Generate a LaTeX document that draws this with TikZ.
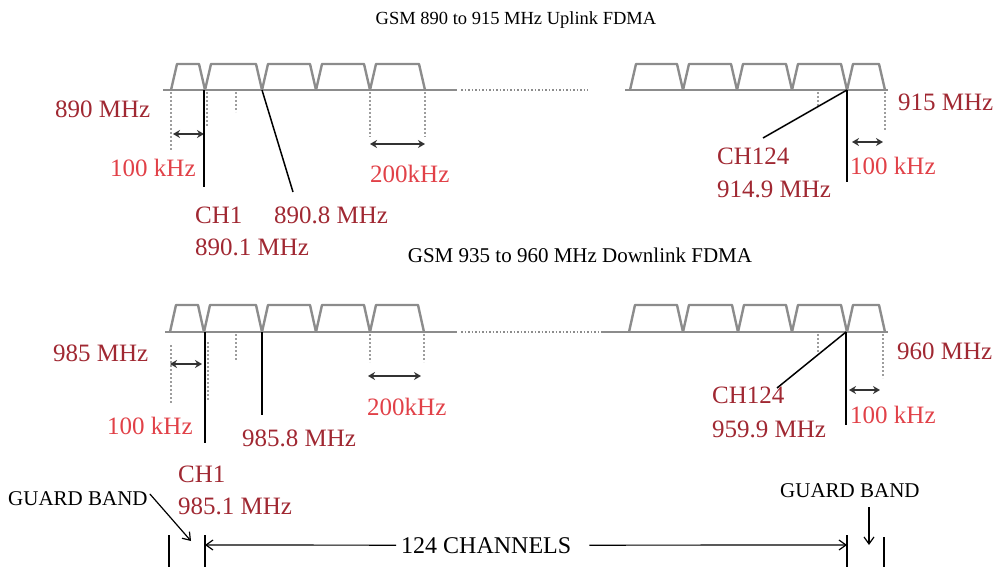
\documentclass[tikz,border=0pt]{standalone}
\usepackage{fontspec}
\setmainfont{Liberation Serif}
\usetikzlibrary{arrows.meta}
\definecolor{labred}{RGB}{160,40,50}
\definecolor{lightred}{RGB}{225,65,72}
\definecolor{trapgray}{RGB}{140,140,140}
\begin{document}
\begin{tikzpicture}[x=1pt,y=-1pt,
  chan/.style={draw=trapgray, line width=2.4pt, line join=round},
  axis/.style={draw=trapgray, line width=2.4pt},
  dotaxis/.style={draw=trapgray, line width=2.2pt, dash pattern=on 1.5pt off 2pt},
  guide/.style={draw=trapgray!85, line width=1.3pt, dash pattern=on 2pt off 2pt},
  leader/.style={draw=black, line width=1.5pt},
  span/.style={draw=black!80, line width=2.2pt, {Stealth[length=7pt,width=8pt]}-{Stealth[length=7pt,width=8pt]}},
  barb/.style={draw=black, line width=1.2pt, -{Straight Barb[length=7pt,width=10pt]}},
  tick/.style={draw=black, line width=1.2pt},
  lab/.style={text=labred, font=\fontsize{25}{25}\selectfont, inner sep=0pt, anchor=base west},
  lablight/.style={lab, text=lightred},
  blk/.style={text=black, inner sep=0pt, anchor=base west},
]
\useasboundingbox (0,0) rectangle (997,567);

% ---------- titles ----------
\node[blk, anchor=base, font=\fontsize{18.5}{18.5}\selectfont] (t1) at (516,25) {GSM 890 to 915 MHz Uplink FDMA};
\node[blk, anchor=base, font=\fontsize{21}{21}\selectfont] (t2) at (580,262) {GSM 935 to 960 MHz Downlink FDMA};

% ---------- uplink spectrum ----------
\foreach \a/\b in {171/205,205/262,262/316,316/370,370/425,630/683,683/737,737/792,792/847,847/885}
  \draw[chan] (\a,90) -- (\a+6,64) -- (\b-6,64) -- (\b,90);
\draw[axis] (163,90) -- (457,90);
\draw[dotaxis] (461,90) -- (588,90);
\draw[axis] (625,90) -- (888,90);

\foreach \x/\y in {171/150,207/127,236/112,370/137,425/137,818/108,885/130}
  \draw[guide] (\x,92) -- (\x,\y);

\coordinate (ua1) at (173,134); \coordinate (ua2) at (204,134);
\draw[span] (ua1) -- (ua2);
\coordinate (ub1) at (370,144); \coordinate (ub2) at (425,144);
\draw[span] (ub1) -- (ub2);
\coordinate (uc1) at (852,142); \coordinate (uc2) at (883,142);
\draw[span] (uc1) -- (uc2);

\coordinate (uch1) at (204,90);  \coordinate (uch1e) at (204,187);
\draw[leader] (uch1) -- (uch1e);
\coordinate (u8) at (262,90);    \coordinate (u8e) at (293,192);
\draw[leader] (u8) -- (u8e);
\coordinate (uch124) at (847,90); \coordinate (uch124e) at (847,182); \coordinate (uch124d) at (763,138);
\draw[leader] (uch124) -- (uch124e);
\draw[leader] (uch124) -- (uch124d);

\node[lab] (u890) at (55,118) {890 MHz};
\node[lablight] (u100a) at (110,177) {100 kHz};
\node[lab] (uch1t) at (195,223) {CH1};
\node[lab] (uch1f) at (195,255) {890.1 MHz};
\node[lab] (u8t) at (274,223) {890.8 MHz};
\node[lablight] (u200) at (370,183) {200kHz};
\node[lab] (u915) at (898,111) {915 MHz};
\node[lab] (uch124t) at (717,165) {CH124};
\node[lab] (uch124f) at (717,198) {914.9 MHz};
\node[lablight] (u100b) at (850,175) {100 kHz};

% ---------- downlink spectrum ----------
\foreach \a/\b in {170/204,204/262,262/316,316/370,370/424,629/683,683/738,738/792,792/847,847/885}
  \draw[chan] (\a,332) -- (\a+6,305) -- (\b-6,305) -- (\b,332);
\draw[axis] (165,332) -- (457,332);
\draw[dotaxis] (461,332) -- (603,332);
\draw[axis] (603,332) -- (888,332);

\foreach \x/\ya/\yb in {171/345/403,208/342/400,236/334/360,370/334/362,424/334/362,818/334/353,883/334/378}
  \draw[guide] (\x,\ya) -- (\x,\yb);

\coordinate (da1) at (170,364); \coordinate (da2) at (202,364);
\draw[span] (da1) -- (da2);
\coordinate (db1) at (368,376); \coordinate (db2) at (421,376);
\draw[span] (db1) -- (db2);
\coordinate (dc1) at (849,390); \coordinate (dc2) at (880,390);
\draw[span] (dc1) -- (dc2);

\coordinate (dch1) at (205,332);  \coordinate (dch1e) at (205,443);
\draw[leader] (dch1) -- (dch1e);
\coordinate (d8) at (262,332);    \coordinate (d8e) at (262,415);
\draw[leader] (d8) -- (d8e);
\coordinate (dch124) at (846,332); \coordinate (dch124e) at (846,425); \coordinate (dch124d) at (777,388);
\draw[leader] (dch124) -- (dch124e);
\draw[leader] (dch124) -- (dch124d);

\node[lab] (d985) at (53,361) {985 MHz};
\node[lablight] (d100a) at (107,434) {100 kHz};
\node[lab] (d8t) at (242,446) {985.8 MHz};
\node[lablight] (d200) at (367,415) {200kHz};
\node[lab] (dch1t) at (178,482) {CH1};
\node[lab] (dch1f) at (178,514) {985.1 MHz};
\node[lab] (d960) at (897,359) {960 MHz};
\node[lablight] (d100b) at (850,423) {100 kHz};
\node[lab] (dch124t) at (712,403) {CH124};
\node[lab] (dch124f) at (712,437) {959.9 MHz};

% ---------- channel count ----------
\coordinate (k1a) at (169,535); \coordinate (k1b) at (169,567);
\coordinate (k2a) at (205,535); \coordinate (k2b) at (205,567);
\coordinate (k3a) at (847,535); \coordinate (k3b) at (847,567);
\coordinate (k4a) at (884,537); \coordinate (k4b) at (884,567);
\draw[tick] (k1a) -- (k1b);
\draw[tick] (k2a) -- (k2b);
\draw[tick] (k3a) -- (k3b);
\draw[tick] (k4a) -- (k4b);

\node[blk, font=\fontsize{24}{24}\selectfont] (chn) at (401,553) {124 CHANNELS};
\coordinate (cl) at (205,545); \coordinate (cr) at (847,545);
\draw[barb] ([xshift=-5pt]chn.west) -- (cl);
\draw[barb] ([xshift=18pt]chn.east) -- (cr);

\node[blk, font=\fontsize{21}{21}\selectfont] (gbl) at (8,505) {GUARD BAND};
\node[blk, font=\fontsize{21}{21}\selectfont] (gbr) at (780,497) {GUARD BAND};
\coordinate (gle) at (191,541);
\draw[barb] ([xshift=2pt,yshift=-3pt]gbl.north east) -- (gle);
\coordinate (gre) at (869,545);
\draw[barb] (869,507) -- (gre);
\end{tikzpicture}
\end{document}
